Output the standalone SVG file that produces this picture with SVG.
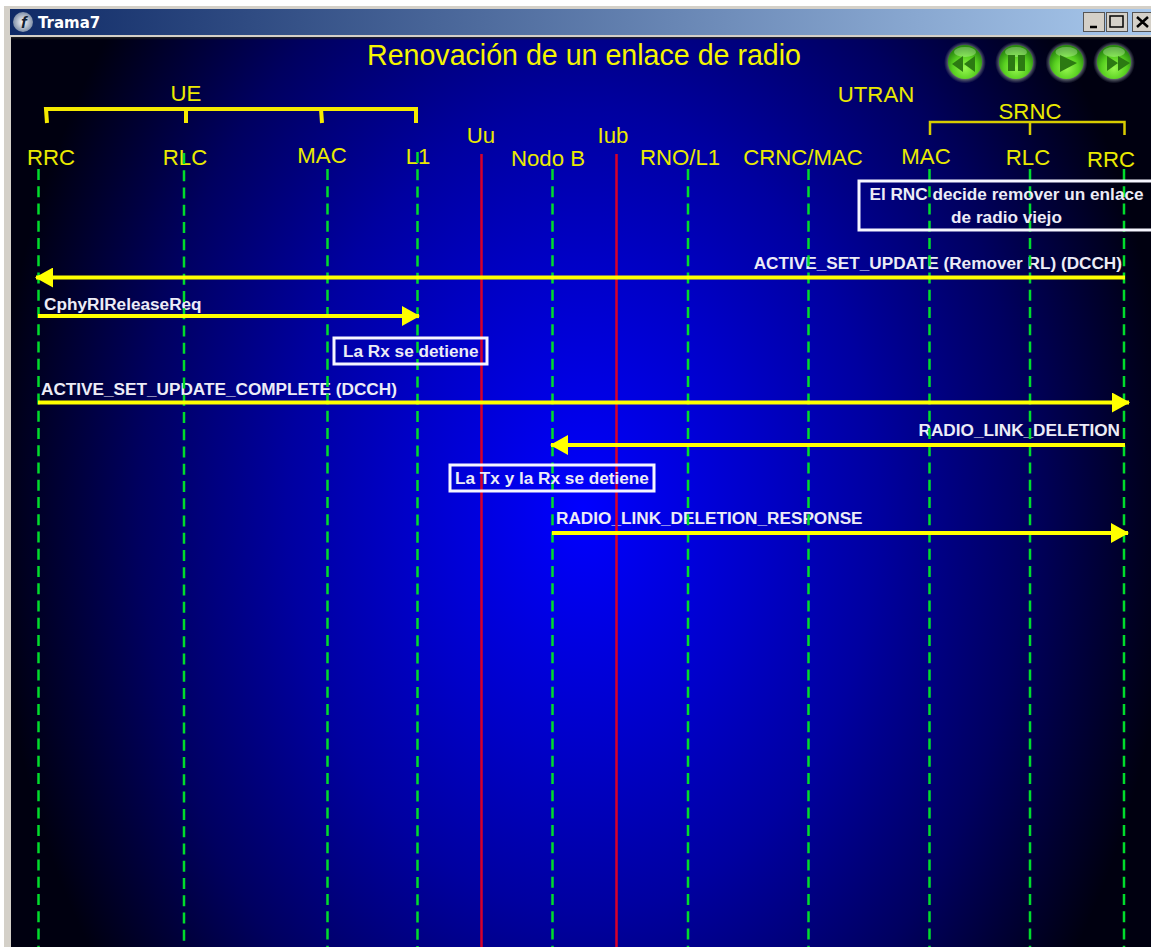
<svg xmlns="http://www.w3.org/2000/svg" width="1151" height="947" viewBox="0 0 1151 947">
<style>
text{font-family:"Liberation Sans",Arial,sans-serif}
.h{fill:#eaea00;font-size:22.2px;text-anchor:middle}
.m{fill:#ececf6;font-size:17.2px;font-weight:bold}
.c{text-anchor:middle}
.ll{stroke:#00dc2c;stroke-width:2.5;stroke-dasharray:11 6.26;fill:none}
.r{stroke:#d8002a;stroke-width:2.5;fill:none}
.a{stroke:#ffff00;stroke-width:4;fill:none}
.b{fill:none;stroke:#f6f6ff;stroke-width:3}
.br{fill:none;stroke:#f5ea00;stroke-width:4}
.br2{fill:none;stroke:#d8cc00;stroke-width:2.5}
.ring{fill:url(#ring)}
.btn{fill:url(#bg)}
.hl{fill:#d8ffc0;opacity:.35}
.g{fill:#2c7a12}
.wb{fill:#d4d0c8;stroke:#555;stroke-width:1}
</style>
<defs>
<radialGradient id="sky" gradientUnits="userSpaceOnUse" cx="0" cy="0" r="1" gradientTransform="translate(583 510) scale(590 800)">
<stop offset="0" stop-color="#0000ff"/><stop offset=".3" stop-color="#0000c8"/><stop offset=".5" stop-color="#0000a0"/><stop offset=".75" stop-color="#000060"/><stop offset="1" stop-color="#000010"/>
</radialGradient>
<linearGradient id="tb"><stop offset="0" stop-color="#0f2a66"/><stop offset="1" stop-color="#a8c8ec"/></linearGradient>
<radialGradient id="ring"><stop offset="0" stop-color="#777"/><stop offset=".78" stop-color="#666c70"/><stop offset="1" stop-color="#555a70" stop-opacity="0"/></radialGradient>
<radialGradient id="bg" cx=".5" cy=".68" r=".6"><stop offset="0" stop-color="#98f850"/><stop offset=".6" stop-color="#58d020"/><stop offset="1" stop-color="#2a8a10"/></radialGradient>
<radialGradient id="logo"><stop offset="0" stop-color="#fff"/><stop offset="1" stop-color="#8090a8"/></radialGradient>
<linearGradient id="shade" x1="0" y1="0" x2="0" y2="1"><stop offset="0" stop-color="#222"/><stop offset="1" stop-color="#222" stop-opacity="0"/></linearGradient>
<marker id="ah" viewBox="0 0 18 20" refX="17" refY="10" markerWidth="18" markerHeight="20" markerUnits="userSpaceOnUse" orient="auto-start-reverse"><path d="M0 0L18 10L0 20Z" fill="#ffff00"/></marker>
</defs>
<rect width="1151" height="947" fill="#fff"/>
<rect x="4" y="6" width="1147" height="941" fill="#d4d0c8"/>
<g id="window-titlebar">
<rect x="10" y="9" width="1141" height="26" fill="url(#tb)"/>
<circle cx="23" cy="22" r="10" fill="url(#logo)"/>
<text x="21" y="28" font-size="17" font-weight="bold" font-style="italic" fill="#123">f</text>
<text x="38" y="28" font-size="15" font-weight="bold" fill="#fff" style="font-family:'DejaVu Sans',sans-serif">Trama7</text>
<rect class="wb" x="1083.5" y="12.5" width="21" height="19"/>
<rect class="wb" x="1106.5" y="12.5" width="21" height="19"/>
<rect class="wb" x="1132.5" y="12.5" width="19" height="19"/>
<path d="M1090 27H1097" stroke="#000" stroke-width="2.5"/>
<rect x="1110" y="16" width="13" height="11" fill="none" stroke="#000" stroke-width="1.5"/>
<path d="M1137 17L1148 27M1148 17L1137 27" stroke="#000" stroke-width="2.5"/>
</g>
<rect x="11" y="37" width="1140" height="910" fill="url(#sky)"/>
<rect x="11" y="37" width="1140" height="3" fill="url(#shade)"/>
<text x="584" y="65" font-size="28.6" fill="#f5f500" class="c">Renovación de un enlace de radio</text>
<g id="ue-group">
<text class="h" x="186" y="101">UE</text>
<path class="br" d="M47 123L46 109H416V123M186 109V123M321 109L322 123"/>
</g>
<g id="utran-group">
<text class="h" x="876" y="102">UTRAN</text>
<text class="h" x="1030" y="119">SRNC</text>
<path class="br2" d="M930 135V122H1124.5V135M1030 122V135"/>
</g>
<g id="node-rrc-ue"><text class="h" x="51" y="165">RRC</text></g>
<g id="node-rlc-ue"><text class="h" x="185" y="165">RLC</text></g>
<g id="node-mac-ue"><text class="h" x="322" y="163">MAC</text></g>
<g id="node-l1"><text class="h" x="418" y="164">L1</text></g>
<g id="node-uu"><text class="h" x="481" y="143">Uu</text></g>
<g id="node-b"><text class="h" x="548" y="166">Nodo B</text></g>
<g id="node-iub"><text class="h" x="613" y="143">Iub</text></g>
<g id="node-rno"><text class="h" x="680" y="165">RNO/L1</text></g>
<g id="node-crnc"><text class="h" x="803" y="165">CRNC/MAC</text></g>
<g id="node-mac"><text class="h" x="926" y="164">MAC</text></g>
<g id="node-rlc"><text class="h" x="1028" y="165">RLC</text></g>
<g id="node-rrc"><text class="h" x="1111" y="167">RRC</text></g>
<g id="msg-labels">
<text class="m" x="1122" y="269" text-anchor="end">ACTIVE_SET_UPDATE (Remover RL) (DCCH)</text>
<text class="m" x="44" y="310">CphyRIReleaseReq</text>
<text class="m" x="41" y="395">ACTIVE_SET_UPDATE_COMPLETE (DCCH)</text>
<text class="m" x="1120" y="436" text-anchor="end">RADIO_LINK_DELETION</text>
<text class="m" x="556" y="524">RADIO_LINK_DELETION_RESPONSE</text>
</g>
<g id="lifelines">
<path class="ll" d="M38.5 169V947M327.5 169V947M552.5 169V947M688 169V947M808.5 169V947M929.5 169V947M1030 169V947M1124 169V947"/>
<path class="ll" d="M184 153V947M417.5 152V947"/>
<path class="r" d="M481.5 154V947M616.5 154V947"/>
</g>
<g id="connectors">
<path class="a" marker-end="url(#ah)" d="M1125 277.5H36"/>
<path class="a" marker-end="url(#ah)" d="M38 316H419"/>
<path class="a" marker-end="url(#ah)" d="M38 402.5H1129"/>
<path class="a" marker-end="url(#ah)" d="M1125 445H551"/>
<path class="a" marker-end="url(#ah)" d="M552 533H1128"/>
</g>
<g id="note-rnc">
<rect class="b" x="859" y="181" width="294" height="49"/>
<text class="m c" x="1006.5" y="200">El RNC decide remover un enlace</text>
<text class="m c" x="1006.5" y="223">de radio viejo</text>
</g>
<g id="note-rx">
<rect class="b" x="334" y="338" width="153" height="26"/>
<text class="m" x="343" y="357">La Rx se detiene</text>
</g>
<g id="note-txrx">
<rect class="b" x="450" y="465" width="204" height="26"/>
<text class="m" x="455" y="484">La Tx y la Rx se detiene</text>
</g>
<g id="controls">
<circle class="ring" cx="965" cy="62.5" r="21"/><circle class="btn" cx="965" cy="62" r="17"/><ellipse class="hl" cx="965" cy="52" rx="11" ry="5"/><path class="g" d="M963 56L952 64L963 72ZM975 56L964 64L975 72Z"/>
<circle class="ring" cx="1016" cy="62.5" r="21"/><circle class="btn" cx="1016" cy="62" r="17"/><ellipse class="hl" cx="1016" cy="52" rx="11" ry="5"/><path class="g" d="M1008 55H1015V71H1008ZM1018 55H1025V71H1018Z"/>
<circle class="ring" cx="1066.500" cy="62.5" r="21"/><circle class="btn" cx="1066.500" cy="62" r="17"/><ellipse class="hl" cx="1066.500" cy="52" rx="11" ry="5"/><path class="g" d="M1060 55L1077 63L1060 72Z"/>
<circle class="ring" cx="1114" cy="62.5" r="21"/><circle class="btn" cx="1114" cy="62" r="17"/><ellipse class="hl" cx="1114" cy="52" rx="11" ry="5"/><path class="g" d="M1107 56L1118 63L1107 71ZM1118 56L1130 63L1118 71Z"/>
</g>
</svg>
